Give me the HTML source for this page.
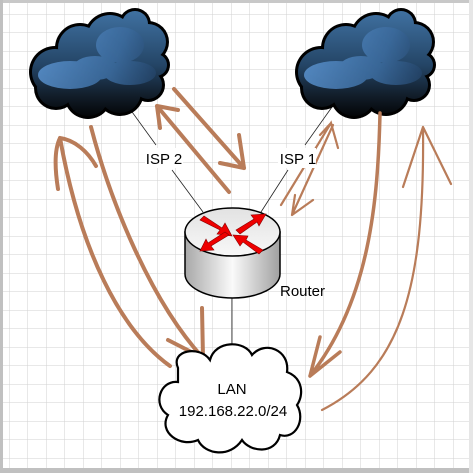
<!DOCTYPE html>
<html><head><meta charset="utf-8"><style>
html,body{margin:0;padding:0;background:#fff}
svg{display:block}
text{font-family:"Liberation Sans",sans-serif}
</style></head><body>
<svg width="473" height="473" viewBox="0 0 473 473" xmlns="http://www.w3.org/2000/svg">
<defs>
<pattern id="g" width="18.5" height="18.5" patternUnits="userSpaceOnUse" x="9" y="14">
<path d="M0 0H18.5M0 0V18.5" stroke="#d2d2d2" stroke-width="1" fill="none"/>
</pattern>
<linearGradient id="cg" gradientUnits="userSpaceOnUse" x1="0" y1="12" x2="0" y2="118">
<stop offset="0" stop-color="#3f70a0"/><stop offset="0.5" stop-color="#244566"/><stop offset="0.8" stop-color="#111c28"/><stop offset="1" stop-color="#020304"/>
</linearGradient>
<linearGradient id="hl" gradientUnits="userSpaceOnUse" x1="40" y1="40" x2="160" y2="90">
<stop offset="0" stop-color="#5b93cf"/><stop offset="0.6" stop-color="#3b6a9c"/><stop offset="1" stop-color="#1e3a5a"/>
</linearGradient>
<linearGradient id="cyl" x1="0" y1="0" x2="1" y2="0">
<stop offset="0" stop-color="#a8a8a8"/><stop offset="0.5" stop-color="#fafafa"/><stop offset="1" stop-color="#a0a0a0"/>
</linearGradient>
<linearGradient id="top" x1="0" y1="0" x2="0" y2="1">
<stop offset="0" stop-color="#e2e2e2"/><stop offset="1" stop-color="#f8f8f8"/>
</linearGradient>
<g id="cloud">
<g fill="#000">
<ellipse cx="105" cy="65" rx="55" ry="38"/>
<circle cx="55" cy="72" r="26"/><circle cx="80" cy="48" r="25"/><circle cx="110" cy="38" r="26"/><circle cx="135" cy="24" r="16"/><circle cx="148" cy="42" r="21"/><circle cx="156" cy="65" r="14"/><circle cx="148" cy="85" r="17"/><circle cx="120" cy="92" r="24"/><circle cx="88" cy="95" r="24"/><circle cx="56" cy="88" r="22"/><circle cx="100" cy="70" r="32"/>
</g>
<g fill="url(#cg)">
<ellipse cx="105" cy="65" rx="52" ry="35"/>
<circle cx="55" cy="72" r="23"/><circle cx="80" cy="48" r="22"/><circle cx="110" cy="38" r="23"/><circle cx="135" cy="24" r="13"/><circle cx="148" cy="42" r="18"/><circle cx="156" cy="65" r="11"/><circle cx="148" cy="85" r="14"/><circle cx="120" cy="92" r="21"/><circle cx="88" cy="95" r="21"/><circle cx="56" cy="88" r="19"/><circle cx="100" cy="70" r="29"/>
</g>
<g fill="url(#hl)" opacity="0.9">
<ellipse cx="120" cy="45" rx="24" ry="18"/><ellipse cx="70" cy="75" rx="32" ry="14"/><ellipse cx="95" cy="68" rx="22" ry="12"/><ellipse cx="130" cy="73" rx="26" ry="12"/>
</g>
</g>
</defs>
<rect width="473" height="473" fill="#fff"/>
<rect x="3" y="3" width="466" height="465" fill="url(#g)"/>
<rect x="0" y="0" width="473" height="3" fill="#c8c8c8"/>
<rect x="0" y="0" width="3" height="473" fill="#c0c0c0"/>
<rect x="0" y="468" width="473" height="5" fill="#c0c0c0"/>
<rect x="469" y="0" width="4" height="473" fill="#e6e6e6"/>

<g stroke="#222" stroke-width="0.8" fill="none">
<path d="M127 105 L156 145"/><path d="M172 170 L203 212"/>
<path d="M332 107 L305 145"/><path d="M288 170 L261 212"/>
<path d="M232 298 L232 352"/>
</g>

<use href="#cloud" x="0" y="0"/>
<use href="#cloud" x="266" y="0"/>

<path d="M185 232 V274 A47.5 24 0 0 0 280 274 V232 Z" fill="url(#cyl)" stroke="#000" stroke-width="1.5"/>
<ellipse cx="232.5" cy="232" rx="47.5" ry="24" fill="url(#top)" stroke="#000" stroke-width="1.5"/>
<g fill="#e00" stroke="#800" stroke-width="0.6">
<path d="M200 220 L204 216 L222 228 L225 223 L232 236 L217 234 L220 230 Z"/>
<path d="M236 230 L254 219 L251 215 L266 214 L259 226 L257 222 L240 234 Z"/>
<path d="M229 235 L211 246 L214 250 L200 251 L206 239 L208 243 L225 232 Z"/>
<path d="M263 250 L259 254 L243 242 L240 246 L233 235 L248 236 L246 240 Z"/>
</g>

<g stroke="#b97c59" stroke-width="4" fill="none" stroke-linecap="round" stroke-linejoin="round">
<path d="M170 366 C120 330 80 250 60 138 M60 138 C54 150 55 170 58 189 M60 138 C75 140 88 152 96 166"/>
<path d="M91 127 C110 200 150 300 203 358 M203 358 L202 308 M203 358 L168 340"/>
<path d="M229 192 L157 106 M157 106 L160 128 M157 106 L178 110"/>
<path d="M174 89 L244 168 M244 168 L239 135 M244 168 L220 163"/>
<path d="M380 113 C378 200 370 300 310 376 M310 376 L320 337 M310 376 L340 352" stroke-width="3.5"/>
</g>
<g stroke="#b97c59" stroke-width="2.2" fill="none" stroke-linecap="round">
<path d="M333 125 L292 215 M292 215 L295 195 M292 215 L313 200"/>
<path d="M281 205 L331 123 L338 148 M331 123 L320 135"/>
<path d="M322 410 C400 370 425 290 423 127 M423 127 L403 187 M423 127 L451 184"/>
</g>

<path d="M178 368 C170 350 200 345 210 360 C215 340 245 340 252 355 C265 340 290 350 287 372 C303 378 304 395 297 405 C306 420 295 440 280 435 C275 455 250 452 242 440 C230 458 205 455 198 440 C180 448 158 432 168 415 C152 405 160 380 178 382 Z" fill="#fff" stroke="#000" stroke-width="2.2"/>

<rect x="145" y="148" width="38" height="20" fill="#fff"/>
<rect x="278" y="148" width="38" height="20" fill="#fff"/>
<text x="164" y="164" font-size="15" text-anchor="middle" fill="#000">ISP 2</text>
<text x="298" y="164" font-size="15" text-anchor="middle" fill="#000">ISP 1</text>
<text x="280" y="296" font-size="15" fill="#000">Router</text>
<text x="232" y="394" font-size="15" text-anchor="middle" fill="#000">LAN</text>
<text x="233" y="416" font-size="15" text-anchor="middle" fill="#000">192.168.22.0/24</text>
</svg>
</body></html>
